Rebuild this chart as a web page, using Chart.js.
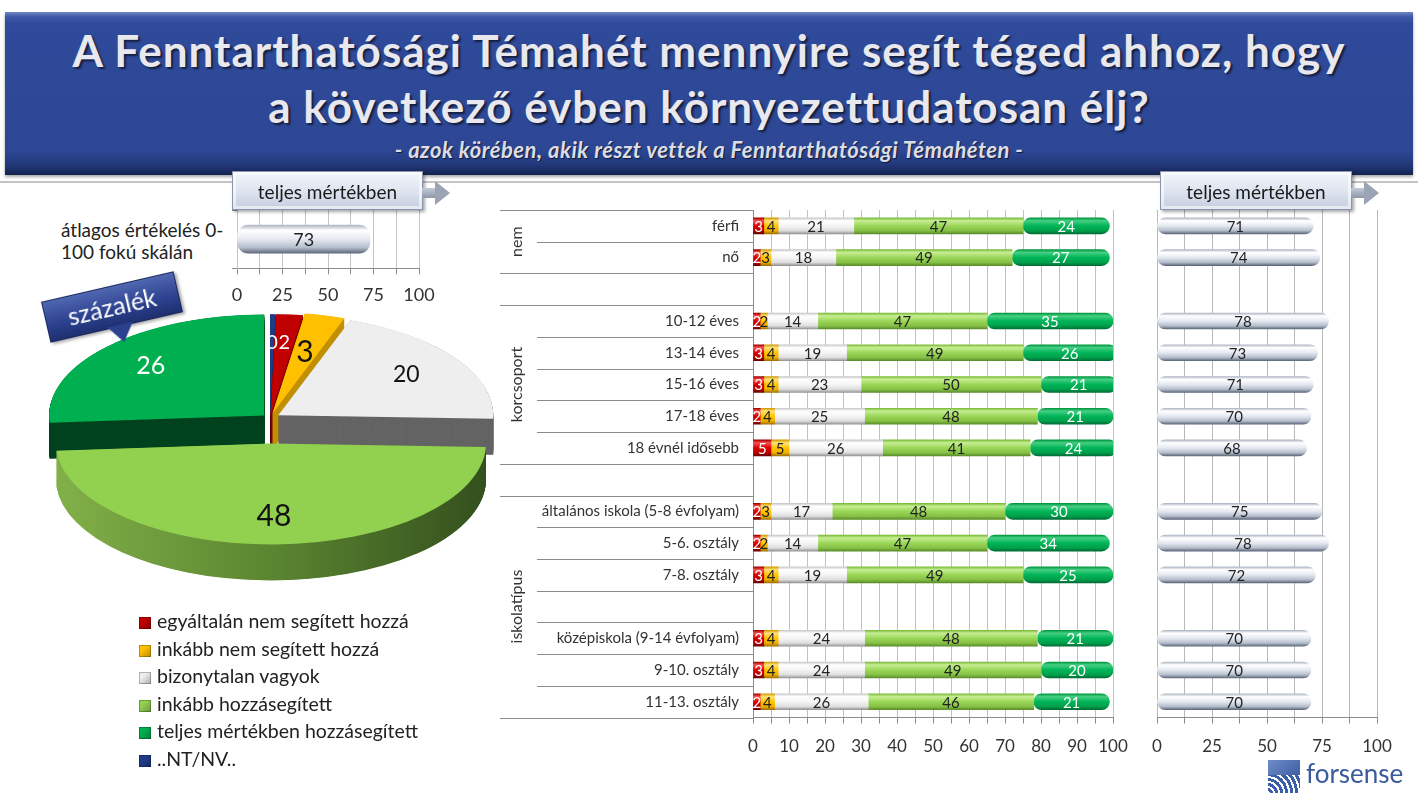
<!DOCTYPE html>
<html lang="hu">
<head>
<meta charset="utf-8">
<script src="https://cdn.jsdelivr.net/npm/chart.js@4.4.1/dist/chart.umd.min.js"></script>
<style>
  html, body { margin: 0; padding: 0; background: #fff; }
  body { width: 1418px; height: 793px; position: relative; overflow: hidden;
         font-family: Lato, "Open Sans", sans-serif; color: #222; }
  .abs { position: absolute; }
  #banner { left: 5px; top: 12px; width: 1408px; height: 163px;
            background: linear-gradient(to bottom, #7087c6 0px, #3b57a6 5px, #2f4a9a 12px, #2d4795 138px, #22397c 152px, #15244f 163px);
            box-shadow: 0 2px 3px rgba(0,0,0,.35); }
  #title { left: 5px; top: 22px; width: 1408px; text-align: center; color: #e8e8ee;
           font-weight: bold; font-size: 44px; letter-spacing: 1px; line-height: 56px;
           text-shadow: 2px 2px 2px rgba(0,0,0,.6); }
  #subtitle { left: 5px; top: 136px; width: 1408px; text-align: center; color: #dcdce4;
              font-weight: bold; font-style: italic; font-size: 22px; letter-spacing: 0.5px;
              text-shadow: 1px 1px 1px rgba(0,0,0,.6); }
  #rule { left: 0; top: 181px; width: 1418px; height: 2px; background: #c4c4c4; }
  .tag { height: 39px; line-height: 39px; text-align: center; font-size: 19px; color: #1a1a1a;
         background: linear-gradient(to bottom, #f1f4fa 0%, #dfe5f0 50%, #c4cedf 100%);
         border: 1px solid #8996ad; box-sizing: border-box;
         box-shadow: inset 0 0 0 3px rgba(255,255,255,.55), 2px 2px 3px rgba(0,0,0,.35); }
  .arrow { width: 30px; height: 24px; }
  .arrow::before { content: ""; position: absolute; left: 0; top: 7px; width: 14px; height: 10px;
                   background: linear-gradient(#c3cad6, #8d97a8); }
  .arrow::after { content: ""; position: absolute; left: 13px; top: 0; width: 0; height: 0;
                  border-top: 12px solid transparent; border-bottom: 12px solid transparent;
                  border-left: 15px solid #9aa4b4; }
  #avgNote { left: 61px; top: 219px; font-size: 19px; line-height: 22px; color: #222; }
  #pct { left: 44px; top: 286px; width: 134px; height: 40px; line-height: 38px; text-align: center;
         color: #fff; font-size: 25px; transform: rotate(-13deg);
         background: linear-gradient(to bottom, #4f66b0, #2b418f 60%, #1f3070);
         border: 1px solid #1a285c; box-shadow: 2px 2px 3px rgba(0,0,0,.35); }
  #pct::after { content: ""; position: absolute; left: 58px; top: 39px; width: 0; height: 0;
                border-left: 13px solid transparent; border-right: 13px solid transparent;
                border-top: 18px solid #2b418f; }
  #legend { left: 139px; top: 607px; font-size: 19.5px; line-height: 27.5px; color: #222; }
  #legend .sw { display: inline-block; width: 12px; height: 12px; margin-right: 6px; vertical-align: -1px;
                box-shadow: inset 0 0 0 1px rgba(0,0,0,.25); }
  #logo { left: 1268px; top: 760px; width: 32px; height: 33px;
          background:
            repeating-radial-gradient(circle at 0% 100%, #fff 0 2px, #3b5ea8 2px 5px) bottom/100% 55% no-repeat,
            linear-gradient(135deg, #6d8cc8, #2e4f99) top/100% 100% no-repeat; }
  #logoText { left: 1306px; top: 757px; font-family: Lato, "Open Sans", sans-serif; font-size: 26px;
              color: #3a5a9c; }
</style>
</head>
<body>
<div id="banner" class="abs"></div>
<div id="title" class="abs">A Fenntarthatósági Témahét mennyire segít téged ahhoz, hogy<br>a következő évben környezettudatosan élj?</div>
<div id="subtitle" class="abs">- azok körében, akik részt vettek a Fenntarthatósági Témahéten -</div>
<div id="rule" class="abs"></div>

<div id="avgNote" class="abs">átlagos értékelés 0-<br>100 fokú skálán</div>

<canvas id="totalChart" class="abs" width="229" height="121" style="left:221px;top:195px"></canvas>
<canvas id="pieChart" class="abs" width="500" height="500" style="left:20px;top:168px"></canvas>
<canvas id="groupChart" class="abs" width="648" height="570" style="left:495px;top:200px"></canvas>
<canvas id="avgChart" class="abs" width="270" height="570" style="left:1137px;top:200px"></canvas>

<div class="abs tag" style="left:232px;top:171px;width:191px">teljes mértékben</div>
<div class="abs arrow" style="left:422px;top:181px"></div>
<div class="abs tag" style="left:1160px;top:171px;width:192px">teljes mértékben</div>
<div class="abs arrow" style="left:1351px;top:181px"></div>

<div id="pct" class="abs">százalék</div>
<div id="legend" class="abs"></div>

<div id="logo" class="abs"></div>
<div id="logoText" class="abs">forsense</div>

<script>
// ---- data ----
const answerLabels = ['egyáltalán nem segített hozzá', 'inkább nem segített hozzá', 'bizonytalan vagyok',
                      'inkább hozzásegített', 'teljes mértékben hozzásegített', '..NT/NV..'];
const overallShares = [2, 3, 20, 48, 26, 0.4];
const overallAvg = [73];

const rowLabels = ['férfi', 'nő', '', '10-12 éves', '13-14 éves', '15-16 éves', '17-18 éves', '18 évnél idősebb', '',
                   'általános iskola (5-8 évfolyam)', '5-6. osztály', '7-8. osztály', '',
                   'középiskola (9-14 évfolyam)', '9-10. osztály', '11-13. osztály'];
const notAtAll  = [3, 2, null, 2, 3, 3, 2, 5, null, 2, 2, 3, null, 3, 3, 2];
const ratherNot = [4, 3, null, 2, 4, 4, 4, 5, null, 3, 2, 4, null, 4, 4, 4];
const unsure    = [21, 18, null, 14, 19, 23, 25, 26, null, 17, 14, 19, null, 24, 24, 26];
const ratherYes = [47, 49, null, 47, 49, 50, 48, 41, null, 48, 47, 49, null, 48, 49, 46];
const fully     = [24, 27, null, 35, 26, 21, 21, 24, null, 30, 34, 25, null, 21, 20, 21];
const avgScore  = [71, 74, null, 78, 73, 71, 70, 68, null, 75, 78, 72, null, 70, 70, 70];

const groups = [
  { name: 'nem', from: 0, to: 1 },
  { name: 'korcsoport', from: 3, to: 7 },
  { name: 'iskolatípus', from: 9, to: 15 }
];

// ---- styles ----
Chart.defaults.font.family = 'Lato, "Open Sans", sans-serif';
Chart.defaults.color = '#333';

const answerColors = ['#c00000', '#ffc000', '#eeeeee', '#92d050', '#00b050', '#1f3c88'];
// pill shading: top edge, highlight, middle, lower, bottom edge
const answerShades = [
  ['#a00000', '#ff5050', '#d80000', '#b80000', '#6a0000'],
  ['#cf9a00', '#ffe27a', '#ffc400', '#efb000', '#a27000'],
  ['#c8c8c8', '#ffffff', '#f5f5f5', '#dedede', '#949494'],
  ['#7bbb38', '#c8ee95', '#9ad657', '#86c146', '#5a8d29'],
  ['#00963f', '#45cf82', '#00b458', '#00a04b', '#006c36']
];
const answerText = ['#ffffff', '#222222', '#222222', '#222222', '#ffffff'];
const silver = ['#aeb7c4', '#ffffff', '#e4e9f0', '#b4bdcb', '#5d687b'];

// legend (html, built from the arrays)
document.getElementById('legend').innerHTML = answerLabels.map((l, i) =>
  '<div><span class="sw" style="background:linear-gradient(135deg,' + answerColors[i] + ' 35%, rgba(0,0,0,.45) 140%),' +
  answerColors[i] + '"></span>' + l + '</div>').join('');

function pillFill(shade, thickness) {
  return (c) => {
    const y = c.chart.scales.y;
    if (!y || c.dataIndex == null) return shade[2];
    const yc = y.getPixelForValue(c.dataIndex);
    if (!Number.isFinite(yc)) return shade[2];
    const g = c.chart.ctx.createLinearGradient(0, yc - thickness / 2, 0, yc + thickness / 2);
    [0, 0.18, 0.5, 0.8, 1].forEach((s, k) => g.addColorStop(s, shade[k]));
    return g;
  };
}

// numbers in the middle of each bar
const barValues = {
  id: 'barValues',
  afterDatasetsDraw(chart, args, opts) {
    const ctx = chart.ctx;
    ctx.save();
    ctx.font = opts.font || '14px Lato';
    ctx.textAlign = 'center';
    ctx.textBaseline = 'middle';
    chart.data.datasets.forEach((ds, i) => {
      chart.getDatasetMeta(i).data.forEach((bar, j) => {
        const v = ds.data[j];
        if (v == null) return;
        const p = bar.getCenterPoint();
        ctx.fillStyle = ds.labelColor || '#222';
        ctx.fillText(String(v), p.x, p.y + 1);
      });
    });
    ctx.restore();
  }
};

// row separators and group names left of the middle chart
const rowFrame = {
  id: 'rowFrame',
  afterDraw(chart) {
    const ctx = chart.ctx, y = chart.scales.y, left = chart.chartArea.left;
    const n = rowLabels.length;
    const step = y.getPixelForValue(1) - y.getPixelForValue(0);
    const gOf = (r) => groups.findIndex(g => r >= g.from && r <= g.to);
    ctx.save();
    ctx.strokeStyle = '#8c8c8c';
    ctx.lineWidth = 1;
    for (let k = 0; k <= n; k++) {
      const yy = Math.round(y.getPixelForValue(Math.min(k, n - 1)) + (k === n ? step / 2 : -step / 2)) + 0.5;
      const full = k === 0 || k === n || gOf(k - 1) !== gOf(k) || gOf(k) === -1;
      ctx.beginPath();
      ctx.moveTo(left - (full ? 253 : 216), yy);
      ctx.lineTo(left, yy);
      ctx.stroke();
    }
    ctx.fillStyle = '#333';
    ctx.font = '16px Lato, "Open Sans", sans-serif';
    ctx.textAlign = 'center';
    ctx.textBaseline = 'middle';
    groups.forEach(g => {
      const yc = (y.getPixelForValue(g.from) + y.getPixelForValue(g.to)) / 2;
      ctx.save();
      ctx.translate(left - 236, yc);
      ctx.rotate(-Math.PI / 2);
      ctx.fillText(g.name, 0, 0);
      ctx.restore();
    });
    ctx.restore();
  }
};

const tickFont = { size: 17 };

// ---- middle stacked chart ----
const stackNames = [notAtAll, ratherNot, unsure, ratherYes, fully];
new Chart(document.getElementById('groupChart'), {
  type: 'bar',
  data: {
    labels: rowLabels,
    datasets: stackNames.map((arr, i) => ({
      label: answerLabels[i],
      data: arr,
      backgroundColor: pillFill(answerShades[i], 16),
      labelColor: answerText[i],
      barThickness: 16,
      borderRadius: 8,
      borderSkipped: false,
      borderWidth: 0
    }))
  },
  options: {
    indexAxis: 'y',
    responsive: false,
    animation: false,
    events: [],
    layout: { padding: { top: 10, right: 30, bottom: 0, left: 0 } },
    plugins: { legend: { display: false }, tooltip: { enabled: false }, barValues: { font: '15px Lato, "Open Sans", sans-serif' } },
    scales: {
      x: {
        stacked: true, min: 0, max: 100,
        grid: { color: '#c2c2c2', tickLength: 6, tickColor: '#8c8c8c' },
        border: { color: '#8c8c8c' },
        ticks: { stepSize: 5, autoSkip: false, maxRotation: 0, padding: 13, font: tickFont,
                 callback: (v) => (v % 10 === 0 ? v : '') }
      },
      y: {
        stacked: true,
        grid: { display: true, drawOnChartArea: false, drawTicks: true, tickLength: 14, tickColor: 'rgba(0,0,0,0)' },
        border: { color: '#8c8c8c' },
        ticks: { font: { size: 15 }, padding: 0, color: '#333' },
        afterFit: (s) => { s.width = 258; }
      }
    }
  },
  plugins: [barValues, rowFrame]
});

// ---- right: average scores ----
new Chart(document.getElementById('avgChart'), {
  type: 'bar',
  data: {
    labels: rowLabels,
    datasets: [{ data: avgScore, backgroundColor: pillFill(silver, 16), barThickness: 16,
                 borderRadius: 8, borderSkipped: false, labelColor: '#222' }]
  },
  options: {
    indexAxis: 'y',
    responsive: false,
    animation: false,
    events: [],
    layout: { padding: { top: 10, right: 30, bottom: 0, left: 0 } },
    plugins: { legend: { display: false }, tooltip: { enabled: false }, barValues: { font: '15px Lato, "Open Sans", sans-serif' } },
    scales: {
      x: {
        min: 0, max: 100,
        grid: { color: '#b8b8b8', tickLength: 6, tickColor: '#8c8c8c' },
        border: { color: '#8c8c8c' },
        ticks: { stepSize: 12.5, autoSkip: false, maxRotation: 0, padding: 13, font: tickFont,
                 callback: (v) => (v % 25 === 0 ? v : '') }
      },
      y: {
        grid: { display: false }, border: { display: false },
        ticks: { display: false },
        afterFit: (s) => { s.width = 20; }
      }
    }
  },
  plugins: [barValues]
});

// ---- top left: overall average ----
new Chart(document.getElementById('totalChart'), {
  type: 'bar',
  data: {
    labels: [''],
    datasets: [{ data: overallAvg, backgroundColor: pillFill(silver, 28), barThickness: 28,
                 borderRadius: 11, borderSkipped: false, labelColor: '#222' }]
  },
  options: {
    indexAxis: 'y',
    responsive: false,
    animation: false,
    events: [],
    layout: { padding: { top: 15, right: 31, bottom: 0, left: 0 } },
    plugins: { legend: { display: false }, tooltip: { enabled: false }, barValues: { font: '18px Lato, "Open Sans", sans-serif' } },
    scales: {
      x: {
        min: 0, max: 100,
        grid: { color: '#c4c4c4', tickLength: 6, tickColor: '#8c8c8c' },
        border: { color: '#8c8c8c' },
        ticks: { stepSize: 12.5, autoSkip: false, maxRotation: 0, padding: 10, font: { size: 18 },
                 callback: (v) => (v % 25 === 0 ? v : '') }
      },
      y: {
        grid: { display: true, offset: true, drawOnChartArea: false, tickLength: 5, tickColor: '#8c8c8c' },
        border: { color: '#c4c4c4' },
        ticks: { display: false },
        afterFit: (s) => { s.width = 16; }
      }
    }
  },
  plugins: [barValues]
});

// ---- 3d exploded pie ----
const pieOrder = [5, 0, 1, 2, 3, 4];          // clockwise from 12 o'clock
const TILT = 0.47, DEPTH = 36;
const pieExplode = [6, 6, 10, 10, 54, 8];
const pieSide = ['#14285e', '#7d0000', '#c28f00', '#646464', null, '#00431f'];
const pieLabelColor = ['#ffffff', '#ffffff', '#111111', '#111111', '#111111', '#ffffff'];
const pieLabelSize = [20, 20, 30, 23, 30, 25];
const pieLabelRadius = [0.72, 0.72, 0.62, 0.72, 0.72, 0.72];

const pie3d = {
  id: 'pie3d',
  beforeDatasetsDraw(chart) {
    const ctx = chart.ctx;
    const arcs = chart.getDatasetMeta(0).data;
    if (!arcs.length) return false;
    const cx = arcs[0].x, cy = arcs[0].y, R = arcs[0].outerRadius;
    const vec = arcs.map((a, i) => {
      const m = (a.startAngle + a.endAngle) / 2;
      return [Math.cos(m) * pieExplode[i], Math.sin(m) * pieExplode[i]];
    });
    ctx.save();
    ctx.translate(cx, cy); ctx.scale(1, TILT); ctx.translate(-cx, -cy);
    const sideGreen = ctx.createLinearGradient(cx - R, 0, cx + R, 0);
    sideGreen.addColorStop(0, '#82b048');
    sideGreen.addColorStop(0.5, '#5b8631');
    sideGreen.addColorStop(1, '#34501d');
    for (let d = DEPTH / TILT; d > 0; d -= 1) {
      arcs.forEach((a, i) => {
        const x = a.x + vec[i][0], y = a.y + vec[i][1] + d;
        ctx.beginPath();
        ctx.moveTo(x, y);
        ctx.arc(x, y, a.outerRadius, a.startAngle, a.endAngle);
        ctx.closePath();
        ctx.fillStyle = pieSide[i] || sideGreen;
        ctx.fill();
      });
    }
    arcs.forEach((a, i) => {
      ctx.save();
      ctx.translate(vec[i][0], vec[i][1]);
      a.draw(ctx);
      ctx.restore();
    });
    ctx.restore();

    const values = chart.data.datasets[0].data;
    ctx.save();
    ctx.textAlign = 'center';
    ctx.textBaseline = 'middle';
    arcs.forEach((a, i) => {
      const m = (a.startAngle + a.endAngle) / 2;
      const r = R * pieLabelRadius[i] + pieExplode[i];
      ctx.font = pieLabelSize[i] + 'px Lato, "Open Sans", sans-serif';
      ctx.fillStyle = pieLabelColor[i];
      ctx.fillText(String(Math.round(values[i])), cx + Math.cos(m) * r, cy + Math.sin(m) * r * TILT);
    });
    ctx.restore();
    return false;
  }
};

new Chart(document.getElementById('pieChart'), {
  type: 'pie',
  data: {
    labels: pieOrder.map(i => answerLabels[i]),
    datasets: [{
      data: pieOrder.map(i => overallShares[i]),
      backgroundColor: pieOrder.map(i => answerColors[i]),
      borderWidth: 0,
      radius: 215
    }]
  },
  options: {
    responsive: false,
    animation: false,
    events: [],
    layout: { padding: 0 },
    plugins: { legend: { display: false }, tooltip: { enabled: false } }
  },
  plugins: [pie3d]
});
</script>
</body>
</html>
